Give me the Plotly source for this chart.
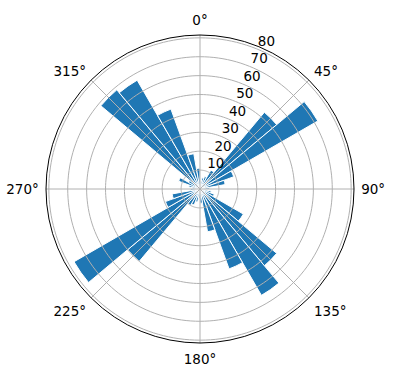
import plotly.graph_objects as go

# bin centers (degrees, clockwise from north) and bar lengths
bin_centers = [5, 15, 25, 35, 45, 55, 65, 75, 85, 95, 105, 115, 125, 135, 145, 155, 165, 175,
               185, 195, 205, 215, 225, 235, 245, 255, 265, 275, 285, 295, 305, 315, 325, 335, 345, 355]
bar_values = [4, 6, 7, 11.5, 53, 72, 19, 13.5, 5, 3, 6, 8, 26.5, 53, 65, 45, 23, 7.5,
              5, 7, 9, 10, 50, 77, 19.5, 15, 5, 4, 6, 12, 7, 68.5, 66.5, 45, 19, 11]
bin_width = 10

angle_ticks = [0, 45, 90, 135, 180, 225, 270, 315]
angle_labels = ["0°", "45°", "90°", "135°", "180°", "225°", "270°", "315°"]
radial_ticks = [10, 20, 30, 40, 50, 60, 70, 80]
radial_labels = ["10", "20", "30", "40", "50", "60", "70", "80"]
radial_label_angle = 22.5
r_max = 81.5

GRID = "#b0b0b0"
FONT = "DejaVu Sans"

fig = go.Figure()
fig.add_trace(go.Barpolar(
    r=bar_values,
    theta=bin_centers,
    width=[bin_width] * len(bin_centers),
    marker=dict(color="#1f77b4", line=dict(color="white", width=1)),
    opacity=1,
    hoverinfo="skip",
))

# gridlines drawn on top of the bars (as matplotlib does)
circle_theta = list(range(0, 361, 2))
for rt in radial_ticks:
    fig.add_trace(go.Scatterpolar(
        r=[rt] * len(circle_theta), theta=circle_theta, mode="lines",
        line=dict(color=GRID, width=1), hoverinfo="skip",
    ))
for at in angle_ticks:
    fig.add_trace(go.Scatterpolar(
        r=[0, r_max], theta=[at, at], mode="lines",
        line=dict(color=GRID, width=1), hoverinfo="skip",
    ))

# radial tick labels at 22.5 degrees
fig.add_trace(go.Scatterpolar(
    r=radial_ticks, theta=[radial_label_angle] * len(radial_ticks),
    mode="text", text=radial_labels, textposition="top right",
    textfont=dict(family=FONT, size=13.5, color="black"),
    hoverinfo="skip", cliponaxis=False,
))

fig.update_layout(
    width=396, height=380,
    margin=dict(l=46, r=42, t=35, b=37),
    paper_bgcolor="white",
    showlegend=False,
    font=dict(family=FONT, size=13.5, color="black"),
    polar=dict(
        bgcolor="white",
        domain=dict(x=[0, 1], y=[0, 1]),
        angularaxis=dict(
            rotation=90, direction="clockwise",
            tickmode="array", tickvals=angle_ticks, ticktext=angle_labels,
            showgrid=False,
            showline=True, linecolor="black", linewidth=1,
            ticks="outside", ticklen=4, tickcolor="rgba(0,0,0,0)",
        ),
        radialaxis=dict(
            range=[0, r_max],
            showticklabels=False,
            showgrid=False,
            showline=False, ticks="",
        ),
    ),
)

fig.write_html("out.html")
